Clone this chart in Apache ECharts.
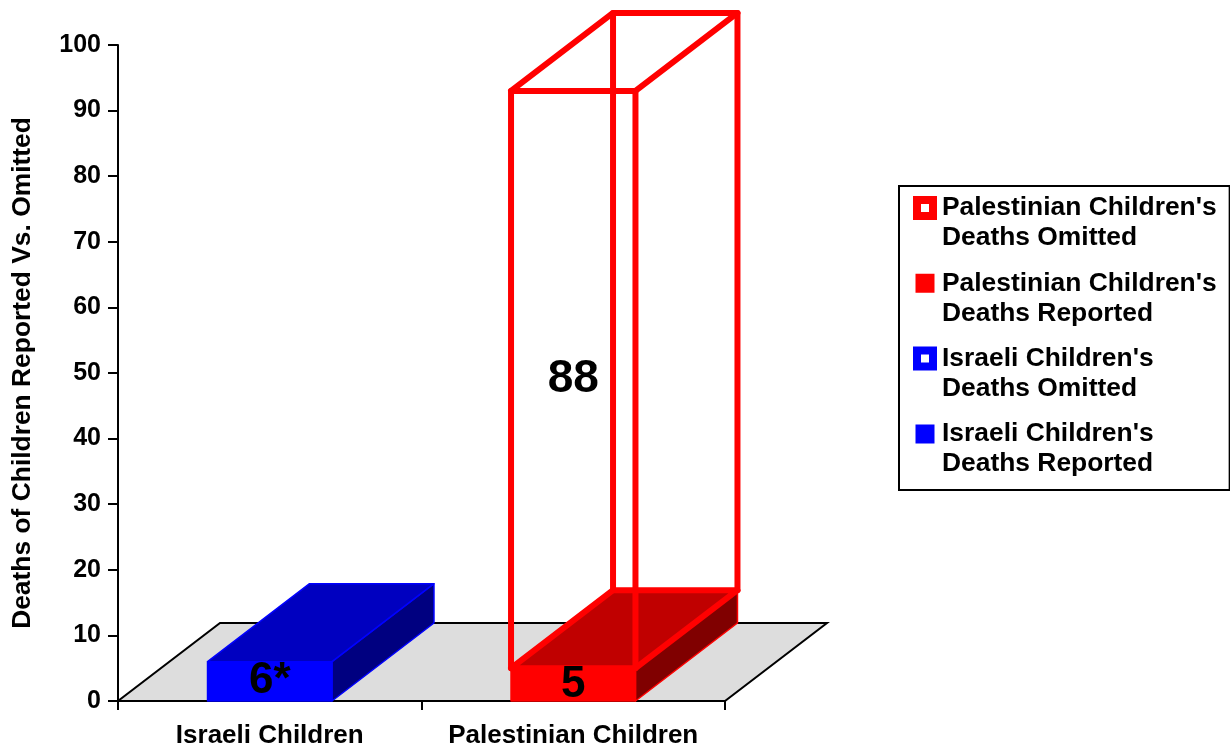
<!DOCTYPE html>
<html>
<head>
<meta charset="utf-8">
<script src="https://cdn.jsdelivr.net/npm/echarts@6/dist/echarts.min.js"></script>
<style>
html,body{margin:0;padding:0;background:#fff;}
#chart{width:1230px;height:748px;}
</style>
</head>
<body>
<div id="chart"></div>
<script>
// ---- data ----
const categories = ['Israeli Children', 'Palestinian Children'];
const reportedDeaths = [6, 5];
const omittedDeaths = [0, 88];
const reportedLabels = ['6*', '5'];
const omittedLabels = ['', '88'];
const seriesNames = [
  "Palestinian Children's Deaths Omitted",
  "Palestinian Children's Deaths Reported",
  "Israeli Children's Deaths Omitted",
  "Israeli Children's Deaths Reported"
];
const yMin = 0, yMax = 100, yInterval = 10;

// ---- style ----
const FONT = "'Liberation Sans', Arial, Helvetica, sans-serif";
const DX = 102, DY = -78;      // depth offset of the 3D look
const BAR_RATIO = 0.41;
const BLUE = {front: '#0000ff', top: '#0000c0', side: '#000080', edge: '#0000ff'};
const RED = {front: '#ff0000', top: '#c00000', side: '#800000', edge: '#ff0000'};

function boxGeom(api) {
  const cat = api.value(0), b = api.value(1), t = api.value(2);
  const p0 = api.coord([cat, b]);
  const p1 = api.coord([cat, t]);
  const w = api.size([1, 0])[0] * BAR_RATIO;
  return {cat: cat, b: b, t: t, cx: p0[0], x0: p0[0] - w / 2, x1: p0[0] + w / 2, w: w, yb: p0[1], yt: p1[1]};
}

function solidBox(colors) {
  return function (params, api) {
    const g = boxGeom(api);
    if (!(g.t > g.b)) return null;
    const {x0, x1, yb, yt, w} = g;
    const edge = {stroke: colors.edge, lineWidth: 1.5, lineJoin: 'round'};
    return {
      type: 'group',
      children: [
        {type: 'polygon', shape: {points: [[x1, yt], [x1, yb], [x1 + DX, yb + DY], [x1 + DX, yt + DY]]},
          style: Object.assign({fill: colors.side}, edge)},
        {type: 'polygon', shape: {points: [[x0, yt], [x1, yt], [x1 + DX, yt + DY], [x0 + DX, yt + DY]]},
          style: Object.assign({fill: colors.top}, edge)},
        {type: 'rect', shape: {x: x0, y: yt, width: w, height: yb - yt},
          style: Object.assign({fill: colors.front}, edge)}
      ]
    };
  };
}

function wireBox(color) {
  return function (params, api) {
    const g = boxGeom(api);
    if (!(g.t > g.b)) return null;
    const {x0, x1, yb, yt} = g;
    const st = {stroke: color, lineWidth: 6, fill: 'none', lineJoin: 'round', lineCap: 'round'};
    const face = y => [[x0, y], [x1, y], [x1 + DX, y + DY], [x0 + DX, y + DY]];
    const vert = (x, y) => ({type: 'polyline', shape: {points: [[x, y + (yt - yb)], [x, y]]}, style: st});
    return {
      type: 'group',
      children: [
        {type: 'polygon', shape: {points: face(yb)}, style: st},
        vert(x0 + DX, yb + DY),
        vert(x1 + DX, yb + DY),
        vert(x0, yb),
        vert(x1, yb),
        {type: 'polygon', shape: {points: face(yt)}, style: st}
      ]
    };
  };
}

function labelItem(params, api) {
  const g = boxGeom(api);
  const text = api.value(3);
  if (!(g.t > g.b) || !text) return null;
  const size = api.value(4);
  return {type: 'text', style: {text: String(text), x: g.cx, y: (g.yb + g.yt) / 2,
    align: 'center', verticalAlign: 'middle', fill: '#000',
    font: 'bold ' + size + 'px ' + FONT}};
}

function floorItem(params, api) {
  const cs = params.coordSys;
  const xl = cs.x, xr = cs.x + cs.width, yb = cs.y + cs.height;
  return {
    type: 'polygon',
    shape: {points: [[xl, yb], [xr, yb], [xr + DX, yb + DY], [xl + DX, yb + DY]]},
    style: {fill: '#dddddd', stroke: '#000', lineWidth: 2, lineJoin: 'miter'}
  };
}

const omittedIcon = 'path://M0,0h0.01v0.01h-0.01Z M0,3H24V27H0Z M8,11V19H16V11Z M24,60h-0.01v-0.01h0.01Z';
const reportedIcon = 'path://M0,0h0.01v0.01h-0.01Z M2.5,5.5H21.5V24.5H2.5Z M24,60h-0.01v-0.01h0.01Z';

// label table built from the data arrays: [category, base, top, text, fontSize]
const labelData = [];
categories.forEach((c, i) => {
  labelData.push([i, 0, reportedDeaths[i], reportedLabels[i], 44]);
  labelData.push([i, reportedDeaths[i], reportedDeaths[i] + omittedDeaths[i], omittedLabels[i], 46]);
});

const chart = echarts.init(document.getElementById('chart'), null, {renderer: 'canvas'});
chart.setOption({
  backgroundColor: '#ffffff',
  animation: false,
  grid: {left: 118, right: 505, top: 45, bottom: 47, containLabel: false, outerBoundsMode: 'none'},
  legend: {
    orient: 'vertical',
    left: 899, top: 186,
    itemWidth: 24, itemHeight: 60, itemGap: 15.3,
    padding: [7, 13, 11, 14],
    borderColor: '#000', borderWidth: 2,
    backgroundColor: '#fff',
    selectedMode: false,
    formatter: name => name.replace(' Deaths', '\nDeaths'),
    textStyle: {fontSize: 26.4, fontWeight: 'bold', fontFamily: FONT, color: '#000', lineHeight: 30},
    data: [
      {name: seriesNames[0], icon: omittedIcon, itemStyle: {color: RED.front, borderWidth: 0}},
      {name: seriesNames[1], icon: reportedIcon, itemStyle: {color: RED.front, borderWidth: 0}},
      {name: seriesNames[2], icon: omittedIcon, itemStyle: {color: BLUE.front, borderWidth: 0}},
      {name: seriesNames[3], icon: reportedIcon, itemStyle: {color: BLUE.front, borderWidth: 0}}
    ]
  },
  xAxis: {
    type: 'category',
    data: categories,
    boundaryGap: true,
    axisLine: {lineStyle: {color: '#000', width: 2}},
    axisTick: {show: true, length: 9, alignWithLabel: false, interval: 0, lineStyle: {color: '#000', width: 2}},
    axisLabel: {color: '#000', fontSize: 26, fontWeight: 'bold', fontFamily: FONT, margin: 22, interval: 0},
    splitLine: {show: false}
  },
  yAxis: {
    type: 'value',
    min: yMin, max: yMax, interval: yInterval,
    name: 'Deaths of Children Reported Vs. Omitted',
    nameLocation: 'middle',
    nameGap: 82,
    nameRotate: 90,
    nameTextStyle: {color: '#000', fontSize: 26.4, fontWeight: 'bold', fontFamily: FONT},
    axisLine: {show: true, lineStyle: {color: '#000', width: 2}},
    axisTick: {show: true, length: 10, lineStyle: {color: '#000', width: 2}},
    axisLabel: {color: '#000', fontSize: 25, fontWeight: 'bold', fontFamily: FONT, margin: 17},
    splitLine: {show: false}
  },
  series: [
    {type: 'custom', name: 'floor', renderItem: floorItem, data: [[0, 0]], z: 1, silent: true,
      encode: {x: 0, y: 1}},
    {type: 'custom', name: seriesNames[3], itemStyle: {color: BLUE.front}, renderItem: solidBox(BLUE),
      data: [[0, 0, reportedDeaths[0]]], encode: {x: 0, y: [1, 2]}, z: 2},
    {type: 'custom', name: seriesNames[1], itemStyle: {color: RED.front}, renderItem: solidBox(RED),
      data: [[1, 0, reportedDeaths[1]]], encode: {x: 0, y: [1, 2]}, z: 3},
    {type: 'custom', name: seriesNames[0], itemStyle: {color: RED.front}, renderItem: wireBox(RED.front),
      data: [[1, reportedDeaths[1], reportedDeaths[1] + omittedDeaths[1]]], encode: {x: 0, y: [1, 2]}, z: 4},
    {type: 'custom', name: seriesNames[2], itemStyle: {color: BLUE.front}, renderItem: wireBox(BLUE.front),
      data: [[0, reportedDeaths[0], reportedDeaths[0] + omittedDeaths[0]]], encode: {x: 0, y: [1, 2]}, z: 4},
    {type: 'custom', name: 'labels', renderItem: labelItem, data: labelData,
      dimensions: ['cat', 'base', 'top', {name: 'text', type: 'ordinal'}, 'size'],
      encode: {x: 0, y: [1, 2]}, z: 10, silent: true}
  ]
});
</script>
</body>
</html>
